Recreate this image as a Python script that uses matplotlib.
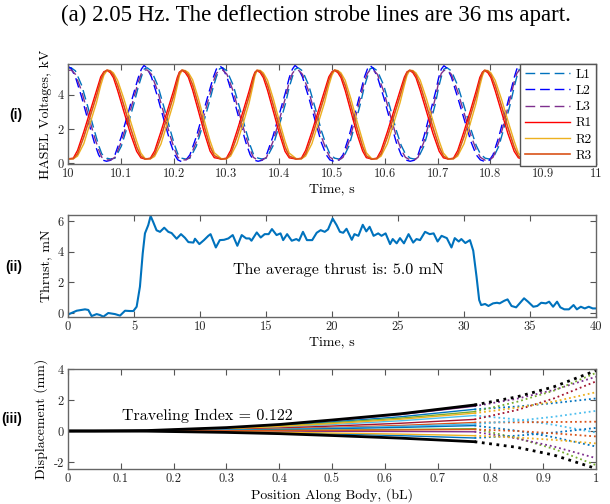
import numpy as np
import matplotlib
matplotlib.use("Agg")
import matplotlib.pyplot as plt
from matplotlib.ticker import FuncFormatter

plt.rcParams["font.family"] = "cmr10"
plt.rcParams["mathtext.fontset"] = "cm"
plt.rcParams["axes.unicode_minus"] = False
plt.rcParams["axes.formatter.use_mathtext"] = True

# ---------------- panel (i): HASEL voltages, kV ----------------
t_r = [10.000,
       10.010, 10.018, 10.030, 10.042, 10.054, 10.062, 10.068, 10.074,
       10.080, 10.086, 10.094, 10.106, 10.118, 10.130, 10.138, 10.146,
       10.156, 10.164, 10.176, 10.188, 10.200, 10.207, 10.211, 10.216,
       10.222, 10.228, 10.236, 10.247, 10.258, 10.269, 10.277, 10.290,
       10.300, 10.308, 10.320, 10.332, 10.343, 10.350, 10.354, 10.358,
       10.364, 10.370, 10.378, 10.389, 10.400, 10.411, 10.419, 10.432,
       10.442, 10.450, 10.462, 10.474, 10.486, 10.494, 10.500, 10.505,
       10.511, 10.517, 10.525, 10.536, 10.547, 10.558, 10.565, 10.575,
       10.585, 10.593, 10.605, 10.617, 10.629, 10.637, 10.642, 10.647,
       10.653, 10.659, 10.667, 10.679, 10.691, 10.703, 10.711, 10.720,
       10.730, 10.738, 10.750, 10.762, 10.773, 10.780, 10.785, 10.789,
       10.795, 10.801, 10.809, 10.821, 10.833, 10.845, 10.853, 10.862]
r1 = [0.26,
      0.30, 0.75, 1.85, 3.05, 4.25, 5.05, 5.35, 5.42,
      5.30, 5.00, 4.25, 3.00, 1.75, 0.70, 0.32, 0.25,
      0.30, 0.72, 1.85, 3.05, 4.25, 5.02, 5.33, 5.42,
      5.30, 5.02, 4.28, 3.05, 1.80, 0.72, 0.33, 0.25,
      0.30, 0.75, 1.88, 3.08, 4.22, 5.00, 5.32, 5.41,
      5.30, 5.00, 4.25, 3.02, 1.78, 0.70, 0.32, 0.25,
      0.30, 0.75, 1.85, 3.05, 4.25, 5.05, 5.35, 5.42,
      5.30, 5.00, 4.25, 3.00, 1.75, 0.72, 0.33, 0.25,
      0.30, 0.75, 1.85, 3.05, 4.25, 5.03, 5.34, 5.42,
      5.30, 5.00, 4.26, 3.02, 1.76, 0.70, 0.32, 0.25,
      0.30, 0.74, 1.86, 3.06, 4.22, 5.02, 5.33, 5.41,
      5.30, 5.00, 4.25, 3.00, 1.75, 0.70, 0.32, 0.25]
r2 = [0.28,
      0.26, 0.42, 1.15, 2.35, 3.55, 4.55, 5.15, 5.42,
      5.42, 5.28, 4.85, 3.75, 2.50, 1.30, 0.60, 0.28,
      0.26, 0.40, 1.12, 2.32, 3.55, 4.52, 5.12, 5.43,
      5.42, 5.30, 4.88, 3.78, 2.52, 1.32, 0.62, 0.28,
      0.26, 0.42, 1.15, 2.35, 3.52, 4.50, 5.10, 5.42,
      5.43, 5.28, 4.85, 3.75, 2.50, 1.30, 0.60, 0.28,
      0.26, 0.42, 1.15, 2.35, 3.55, 4.55, 5.15, 5.43,
      5.42, 5.28, 4.85, 3.75, 2.50, 1.32, 0.62, 0.28,
      0.26, 0.42, 1.15, 2.35, 3.55, 4.55, 5.13, 5.42,
      5.42, 5.28, 4.86, 3.76, 2.50, 1.30, 0.60, 0.28,
      0.26, 0.42, 1.14, 2.34, 3.52, 4.52, 5.12, 5.42,
      5.42, 5.28, 4.85, 3.75, 2.50, 1.30, 0.60, 0.28]
r3 = [0.25,
      0.27, 0.55, 1.55, 2.75, 3.95, 4.85, 5.30, 5.45,
      5.38, 5.15, 4.55, 3.35, 2.10, 0.95, 0.42, 0.25,
      0.27, 0.53, 1.53, 2.73, 3.95, 4.82, 5.28, 5.45,
      5.38, 5.17, 4.58, 3.40, 2.15, 0.98, 0.45, 0.24,
      0.27, 0.55, 1.57, 2.77, 3.92, 4.80, 5.27, 5.44,
      5.38, 5.15, 4.55, 3.37, 2.12, 0.95, 0.42, 0.25,
      0.27, 0.55, 1.55, 2.75, 3.95, 4.85, 5.30, 5.45,
      5.38, 5.15, 4.55, 3.35, 2.10, 0.97, 0.44, 0.24,
      0.27, 0.55, 1.55, 2.75, 3.95, 4.84, 5.29, 5.44,
      5.38, 5.15, 4.56, 3.36, 2.11, 0.95, 0.42, 0.25,
      0.27, 0.54, 1.56, 2.76, 3.92, 4.82, 5.28, 5.44,
      5.38, 5.15, 4.55, 3.35, 2.10, 0.95, 0.42, 0.25]

t_l = [10.000,
       10.006, 10.014, 10.026, 10.038, 10.050, 10.058, 10.064, 10.073,
       10.081, 10.089, 10.101, 10.113, 10.125, 10.133, 10.139, 10.144,
       10.150, 10.158, 10.170, 10.182, 10.194, 10.202, 10.208, 10.215,
       10.223, 10.231, 10.243, 10.255, 10.267, 10.275, 10.281, 10.287,
       10.293, 10.301, 10.313, 10.325, 10.337, 10.345, 10.351, 10.360,
       10.368, 10.376, 10.388, 10.400, 10.412, 10.419, 10.425, 10.430,
       10.436, 10.444, 10.456, 10.468, 10.480, 10.489, 10.496, 10.505,
       10.513, 10.521, 10.532, 10.543, 10.554, 10.561, 10.567, 10.572,
       10.578, 10.586, 10.598, 10.610, 10.622, 10.631, 10.639, 10.648,
       10.656, 10.663, 10.674, 10.685, 10.696, 10.702, 10.707, 10.712,
       10.718, 10.726, 10.738, 10.751, 10.764, 10.773, 10.781, 10.790,
       10.798, 10.805, 10.816, 10.827, 10.838, 10.845, 10.850, 10.855]
l1 = [5.55,
      5.58, 5.40, 4.55, 3.25, 1.90, 1.05, 0.55, 0.30,
      0.25, 0.30, 1.00, 2.20, 3.50, 4.45, 5.05, 5.50,
      5.58, 5.40, 4.55, 3.25, 1.90, 1.05, 0.55, 0.30,
      0.25, 0.30, 1.00, 2.20, 3.50, 4.45, 5.05, 5.52,
      5.58, 5.40, 4.55, 3.25, 1.90, 1.05, 0.55, 0.30,
      0.25, 0.30, 1.00, 2.20, 3.50, 4.45, 5.05, 5.50,
      5.58, 5.40, 4.55, 3.25, 1.90, 1.05, 0.55, 0.30,
      0.25, 0.30, 1.00, 2.20, 3.50, 4.45, 5.05, 5.52,
      5.58, 5.40, 4.55, 3.25, 1.90, 1.05, 0.55, 0.30,
      0.25, 0.30, 1.00, 2.20, 3.50, 4.45, 5.05, 5.50,
      5.58, 5.40, 4.55, 3.25, 1.90, 1.05, 0.55, 0.30,
      0.25, 0.30, 1.00, 2.20, 3.50, 4.45, 5.05, 5.52]
l2 = [5.65,
      5.55, 5.05, 3.85, 2.50, 1.20, 0.50, 0.20, 0.12,
      0.18, 0.50, 1.55, 2.85, 4.15, 5.00, 5.50, 5.72,
      5.55, 5.05, 3.85, 2.50, 1.20, 0.50, 0.20, 0.10,
      0.18, 0.50, 1.55, 2.85, 4.15, 5.00, 5.50, 5.70,
      5.55, 5.05, 3.85, 2.50, 1.20, 0.50, 0.20, 0.12,
      0.18, 0.50, 1.55, 2.85, 4.15, 5.00, 5.50, 5.72,
      5.55, 5.05, 3.85, 2.50, 1.20, 0.50, 0.20, 0.10,
      0.18, 0.50, 1.55, 2.85, 4.15, 5.00, 5.50, 5.72,
      5.55, 5.05, 3.85, 2.50, 1.20, 0.50, 0.20, 0.12,
      0.18, 0.50, 1.55, 2.85, 4.15, 5.00, 5.50, 5.70,
      5.55, 5.05, 3.85, 2.50, 1.20, 0.50, 0.20, 0.10,
      0.18, 0.50, 1.55, 2.85, 4.15, 5.00, 5.50, 5.72]
l3 = [5.42,
      5.45, 5.20, 4.20, 2.85, 1.55, 0.80, 0.35, 0.20,
      0.20, 0.35, 1.25, 2.50, 3.85, 4.75, 5.25, 5.45,
      5.45, 5.20, 4.20, 2.85, 1.55, 0.80, 0.35, 0.20,
      0.20, 0.35, 1.25, 2.50, 3.85, 4.75, 5.25, 5.42,
      5.45, 5.20, 4.20, 2.85, 1.55, 0.80, 0.35, 0.18,
      0.20, 0.35, 1.25, 2.50, 3.85, 4.75, 5.25, 5.45,
      5.45, 5.20, 4.20, 2.85, 1.55, 0.80, 0.35, 0.20,
      0.20, 0.35, 1.25, 2.50, 3.85, 4.75, 5.25, 5.45,
      5.45, 5.20, 4.20, 2.85, 1.55, 0.80, 0.35, 0.20,
      0.20, 0.35, 1.25, 2.50, 3.85, 4.75, 5.25, 5.42,
      5.45, 5.20, 4.20, 2.85, 1.55, 0.80, 0.35, 0.18,
      0.20, 0.35, 1.25, 2.50, 3.85, 4.75, 5.25, 5.45]

# ---------------- panel (ii): thrust, mN ----------------
thrust_t = [0.0, 0.66, 1.29, 1.54, 1.79, 2.17, 2.42, 2.68, 3.05, 3.56, 3.94,
            4.32, 4.70, 4.95, 5.20, 5.45, 5.66, 5.83, 6.08, 6.26, 6.46, 6.71,
            6.97, 7.29, 7.60, 7.85, 8.23, 8.56, 8.86, 9.12, 9.50, 9.62, 9.95,
            10.30, 10.63, 10.80, 11.20, 11.50, 11.82, 12.15, 12.48, 12.83,
            13.16, 13.50, 13.75, 13.90, 14.30, 14.60, 14.90, 15.20, 15.45,
            15.80, 16.10, 16.30, 16.60, 16.95, 17.30, 17.50, 17.80, 18.10,
            18.50, 18.84, 19.14, 19.45, 19.70, 20.05, 20.35, 20.60, 20.85,
            21.10, 21.50, 21.70, 22.00, 22.33, 22.60, 22.85, 23.15, 23.50,
            23.75, 24.06, 24.40, 24.60, 24.90, 25.15, 25.45, 25.80, 26.15,
            26.40, 26.67, 27.05, 27.40, 27.70, 28.00, 28.30, 28.70, 29.05,
            29.30, 29.60, 29.80, 30.10, 30.45, 30.70, 30.95, 31.15, 31.30,
            31.60, 31.85, 32.20, 32.50, 32.70, 33.05, 33.30, 33.60, 33.95,
            34.25, 34.55, 34.85, 35.25, 35.55, 35.85, 36.20, 36.45, 36.75,
            37.05, 37.30, 37.60, 37.95, 38.30, 38.55, 38.85, 39.15, 39.45,
            39.75, 40.0]
thrust_v = [-0.10, 0.15, 0.24, 0.20, -0.20, -0.07, -0.13, -0.24, 0.00, -0.07,
            -0.17, 0.15, 0.13, 0.13, 0.41, 1.72, 3.89, 5.20, 5.74, 6.33, 5.93,
            5.40, 5.30, 5.57, 5.30, 5.22, 4.85, 5.15, 4.91, 4.63, 4.60, 4.85,
            4.50, 4.76, 5.04, 5.15, 4.28, 4.76, 4.78, 4.87, 5.09, 4.39, 5.09,
            4.87, 4.87, 4.72, 5.26, 4.93, 5.15, 5.15, 5.48, 5.09, 5.20, 4.76,
            5.15, 4.72, 4.83, 4.72, 5.30, 4.76, 4.76, 5.24, 5.41, 5.30, 5.46,
            6.17, 5.74, 5.30, 5.24, 5.50, 4.78, 5.15, 5.04, 5.76, 5.33, 5.63,
            5.04, 5.20, 5.04, 5.20, 4.50, 4.83, 4.55, 4.89, 4.55, 5.15, 4.60,
            4.83, 4.76, 5.30, 5.15, 5.20, 4.67, 5.04, 4.89, 4.28, 4.89, 4.67,
            4.83, 4.57, 4.76, 4.07, 2.37, 0.85, 0.52, 0.59, 0.46, 0.63, 0.67,
            0.63, 0.80, 0.89, 0.46, 0.37, 0.67, 0.96, 0.74, 0.41, 0.46, 0.67,
            0.63, 0.74, 0.41, 0.74, 0.37, 0.24, 0.24, 0.52, 0.24, 0.41, 0.30,
            0.41, 0.30, 0.30]

# ---------------- panel (iii): strobe deflection lines ----------------
x_solid = [0.0, 0.05, 0.15, 0.3, 0.4, 0.5, 0.63, 0.77]
x_dot = [0.77, 0.85, 0.92, 1.0]
strobe_colors = ["#7E2F8E", "#0072BD", "#77AC30", "#4DBEEE", "#A2142F",
                 "#EDB120", "#D95319", "#4DBEEE", "#0072BD", "#77AC30",
                 "#7E2F8E", "#0072BD", "#EDB120", "#D95319"]
strobe_solid = [[0, 0, 0.03, 0.21, 0.40, 0.67, 1.06, 1.60],
                [0, 0, 0.03, 0.18, 0.35, 0.59, 0.92, 1.40],
                [0, 0, 0.02, 0.16, 0.31, 0.53, 0.83, 1.25],
                [0, 0, 0.02, 0.13, 0.25, 0.42, 0.66, 1.00],
                [0, 0, 0.01, 0.10, 0.19, 0.32, 0.50, 0.75],
                [0, 0, 0.02, 0.15, 0.29, 0.48, 0.76, 1.15],
                [0, 0, 0.01, 0.07, 0.14, 0.23, 0.36, 0.55],
                [0, 0, 0.01, 0.06, 0.11, 0.19, 0.30, 0.45],
                [0, 0, 0.01, 0.05, 0.09, 0.15, 0.23, 0.35],
                [0, 0, 0.00, 0.02, 0.04, 0.06, 0.10, 0.15],
                [0, 0, 0.00, -0.01, -0.01, -0.02, -0.03, -0.05],
                [0, 0, -0.01, -0.06, -0.11, -0.19, -0.30, -0.45],
                [0, 0, -0.01, -0.04, -0.08, -0.13, -0.20, -0.30],
                [0, 0, 0.00, 0.01, 0.03, 0.04, 0.07, 0.10]]
strobe_dot = [[1.60, 2.08, 2.65, 3.50],
              [1.40, 1.58, 1.80, 2.10],
              [1.25, 1.88, 2.60, 3.75],
              [1.00, 0.75, 0.40, -0.10],
              [0.75, 1.35, 2.10, 3.20],
              [1.15, 1.50, 1.90, 2.50],
              [0.55, 0.56, 0.58, 0.60],
              [0.45, 0.66, 0.92, 1.30],
              [0.35, 0.02, -0.40, -1.00],
              [0.15, -0.45, -1.15, -2.20],
              [-0.05, -0.48, -1.00, -1.75],
              [-0.45, -0.30, -0.10, 0.20],
              [-0.30, -0.42, -0.57, -0.80],
              [0.10, 0.00, -0.15, -0.35]]
env_top_solid = [0, 0, 0.03, 0.22, 0.42, 0.71, 1.11, 1.68]
env_top_dot = [1.68, 2.20, 2.85, 3.90]
env_bot_solid = [0, 0, -0.01, -0.09, -0.17, -0.29, -0.46, -0.69]
env_bot_dot = [-0.69, -1.05, -1.55, -2.42]

W, H = 610, 504
fig = plt.figure(figsize=(W / 100, H / 100), dpi=100)


def box(left, top, right, bottom):
    return [left / W, 1 - bottom / H, (right - left) / W, (bottom - top) / H]


def style(ax):
    for s in ax.spines.values():
        s.set_color("#666666")
        s.set_linewidth(1.0)
    ax.tick_params(direction="in", top=True, right=True, length=4, width=0.8,
                   color="#555555", labelsize=9, labelcolor="#262626", pad=3)
    ax.xaxis.set_major_formatter(FuncFormatter(lambda v, p: "%g" % round(v, 3)))
    ax.yaxis.set_major_formatter(FuncFormatter(lambda v, p: "%g" % round(v, 3)))


fig.text(316 / W, 1 - 15 / H,
         "(a) 2.05 Hz. The deflection strobe lines are 36 ms apart.",
         family="Liberation Serif", fontsize=16.5, ha="center", va="center")

# panel (i)
ax1 = fig.add_axes(box(68, 64, 596, 164))
dash = (7, 3.5)
ax1.plot(t_l, l1, color="#0072BD", lw=1.0, dashes=dash, label="L1")
ax1.plot(t_l, l2, color="#0000FF", lw=1.0, dashes=dash, label="L2")
ax1.plot(t_l, l3, color="#7E2F8E", lw=1.0, dashes=dash, label="L3")
ax1.plot(t_r, r1, color="#FF0000", lw=1.0, label="R1")
ax1.plot(t_r, r2, color="#EDB120", lw=1.0, label="R2")
ax1.plot(t_r, r3, color="#D95319", lw=1.2, label="R3")
ax1.set_xlim(10, 11)
ax1.set_ylim(-0.04, 5.8)
ax1.set_xticks(np.arange(10, 11.01, 0.1))
ax1.set_yticks([0, 2, 4])
style(ax1)
ax1.set_xlabel("Time, s", fontsize=10, labelpad=2)
ax1.set_ylabel("HASEL Voltages, kV", fontsize=10, labelpad=4)
leg = ax1.legend(loc="upper right", bbox_to_anchor=(1, 1), borderaxespad=0,
                 fancybox=False, framealpha=1, edgecolor="#555555",
                 fontsize=9.5, handlelength=3.4, handletextpad=0.4,
                 labelspacing=0.3, borderpad=0.35)
leg.get_frame().set_linewidth(1.0)

# panel (ii)
ax2 = fig.add_axes(box(68, 215, 596, 317))
ax2.plot(thrust_t, thrust_v, color="#0072BD", lw=1.5)
ax2.set_xlim(0, 40)
ax2.set_ylim(-0.26, 6.4)
ax2.set_xticks(np.arange(0, 41, 5))
ax2.set_yticks([0, 2, 4, 6])
style(ax2)
ax2.set_xlabel("Time, s", fontsize=10, labelpad=2)
ax2.set_ylabel("Thrust, mN", fontsize=10, labelpad=4)
ax2.text(12.5, 2.8, "The average thrust is: 5.0 mN", fontsize=11.5,
         ha="left", va="center")

# panel (iii)
ax3 = fig.add_axes(box(68, 369, 596, 469))
for c, ys, yd in zip(strobe_colors, strobe_solid, strobe_dot):
    ax3.plot(x_solid, ys, color=c, lw=1.0)
    ax3.plot(x_dot, yd, color=c, lw=1.3, linestyle=":")
for ys, yd in [(env_top_solid, env_top_dot), (env_bot_solid, env_bot_dot)]:
    ax3.plot(x_solid, ys, color="black", lw=2.0)
    ax3.plot(x_dot, yd, color="black", lw=2.0, linestyle=":")
ax3.set_xlim(0, 1)
ax3.set_ylim(-2.45, 4)
ax3.set_xticks(np.arange(0, 1.01, 0.1))
ax3.set_yticks([-2, 0, 2, 4])
style(ax3)
ax3.set_xlabel("Position Along Body, (bL)", fontsize=10, labelpad=2)
ax3.set_ylabel("Displacement (mm)", fontsize=10, labelpad=4)
ax3.text(0.102, 0.97, "Traveling Index = 0.122", fontsize=11.5,
         ha="left", va="center")

for lab, y in [("(i)", 115), ("(ii)", 267), ("(iii)", 419)]:
    fig.text(22 / W, 1 - y / H, lab, family="Liberation Sans",
             fontweight="bold", fontsize=10, ha="right", va="center")

fig.savefig("out.png", dpi=100)
